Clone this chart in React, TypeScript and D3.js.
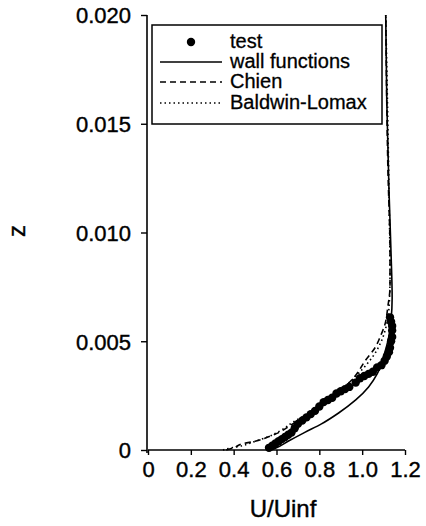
import * as d3 from "d3"
import { useEffect, useRef } from "react"

const uTicks = [0, 0.2, 0.4, 0.6, 0.8, 1.0, 1.2]
const zTicks = [0, 0.005, 0.01, 0.015, 0.02]
const uTickLabels = ["0", "0.2", "0.4", "0.6", "0.8", "1.0", "1.2"]
const zTickLabels = ["0", "0.005", "0.010", "0.015", "0.020"]

// test data (U/Uinf, z)
const testU = [0.565, 0.58, 0.595, 0.61, 0.625, 0.64, 0.655, 0.67, 0.685, 0.7, 0.72, 0.74, 0.76, 0.78, 0.8, 0.82, 0.84, 0.86, 0.88, 0.9, 0.92, 0.94, 0.97, 0.99, 1.01, 1.03, 1.05, 1.07, 1.09, 1.105, 1.115, 1.125, 1.13, 1.135, 1.14, 1.14, 1.14, 1.135, 1.13]
const testZ = [0.0001, 0.0002, 0.0003, 0.0004, 0.0005, 0.0006, 0.0007, 0.0008, 0.001, 0.0012, 0.00135, 0.0015, 0.00165, 0.0018, 0.002, 0.0022, 0.0023, 0.0024, 0.0026, 0.0027, 0.0028, 0.0029, 0.0031, 0.0033, 0.0034, 0.0035, 0.0036, 0.0038, 0.0039, 0.0041, 0.0043, 0.0045, 0.0047, 0.005, 0.0052, 0.0055, 0.0057, 0.0059, 0.0061]

const wallU = [0.575, 0.6, 0.654, 0.73, 0.81, 0.89, 0.97, 1.03, 1.07, 1.1, 1.12, 1.135, 1.14, 1.135, 1.125, 1.115, 1.11]
const wallZ = [0, 0.0001, 0.0004, 0.0008, 0.0012, 0.0017, 0.0023, 0.0029, 0.0035, 0.0043, 0.005, 0.006, 0.007, 0.009, 0.012, 0.016, 0.02]

const chienU = [0.365, 0.4, 0.445, 0.5, 0.56, 0.61, 0.66, 0.72, 0.8, 0.87, 0.93, 0.967, 1.014, 1.06, 1.084, 1.107, 1.12, 1.13, 1.13, 1.12, 1.11]
const chienZ = [0, 0.0001, 0.0003, 0.0004, 0.0006, 0.0008, 0.0011, 0.0015, 0.002, 0.0025, 0.003, 0.0034, 0.0041, 0.0047, 0.0052, 0.0058, 0.0066, 0.0075, 0.009, 0.013, 0.02]

const baldwinU = [0.35, 0.39, 0.44, 0.5, 0.56, 0.62, 0.68, 0.75, 0.82, 0.89, 0.95, 1.0, 1.05, 1.085, 1.11, 1.125, 1.13, 1.125, 1.11]
const baldwinZ = [0, 0.0001, 0.0002, 0.0004, 0.0006, 0.0009, 0.0013, 0.0017, 0.0022, 0.0027, 0.0032, 0.0037, 0.0043, 0.0049, 0.0056, 0.0065, 0.008, 0.012, 0.02]

const legendNames = ["test", "wall functions", "Chien", "Baldwin-Lomax"]

export default function App() {
    const svgRef = useRef<SVGSVGElement>(null)

    useEffect(() => {
        if (!svgRef.current) return
        const svg = d3.select(svgRef.current)
        svg.selectAll("*").remove()

        const font = "'Liberation Sans', Arial, sans-serif"
        const x = d3.scaleLinear().domain([0, 1.2]).range([148, 405])
        const y = d3.scaleLinear().domain([0, 0.02]).range([450, 15])

        // axes
        const xAxis = svg.append("g").attr("transform", "translate(0,450)")
            .call(d3.axisBottom(x).tickValues(uTicks).tickSize(5).tickFormat((_, i) => uTickLabels[i]))
        xAxis.select(".domain").attr("stroke-width", 1.6).attr("d", `M${x(0)},0H${x(1.2)}`)
        xAxis.selectAll(".tick line").attr("stroke-width", 1.4)
        xAxis.selectAll(".tick text")
            .attr("y", 11).attr("dy", "0.71em")
            .attr("font-family", font).attr("font-size", 22)
            .attr("fill", "#000").attr("stroke", "#000").attr("stroke-width", 0.4)

        const yAxis = svg.append("g").attr("transform", "translate(147,0)")
            .call(d3.axisLeft(y).tickValues(zTicks).tickSize(6).tickFormat((_, i) => zTickLabels[i]))
        yAxis.select(".domain").attr("stroke-width", 1.6).attr("d", `M0,${y(0) + 3}V${y(0.02)}`)
        yAxis.selectAll(".tick line").attr("stroke-width", 1.4)
        yAxis.selectAll(".tick text")
            .attr("x", -16).attr("dy", "0.36em")
            .attr("font-family", font).attr("font-size", 22)
            .attr("fill", "#000").attr("stroke", "#000").attr("stroke-width", 0.4)

        // axis titles
        svg.append("text")
            .attr("x", 283).attr("y", 517)
            .attr("text-anchor", "middle")
            .attr("font-family", font).attr("font-size", 24)
            .attr("stroke", "#000").attr("stroke-width", 0.4)
            .text("U/Uinf")
        svg.append("text")
            .attr("transform", "translate(25,231) rotate(-90)")
            .attr("text-anchor", "middle")
            .attr("font-family", font).attr("font-size", 24)
            .attr("stroke", "#000").attr("stroke-width", 0.4)
            .text("z")

        // model curves
        const line = d3.line<[number, number]>()
            .x((d) => x(d[0]))
            .y((d) => y(d[1]))
            .curve(d3.curveMonotoneY)

        const curves = [
            { u: wallU, z: wallZ, dash: null },
            { u: chienU, z: chienZ, dash: "6,4" },
            { u: baldwinU, z: baldwinZ, dash: "1.5,3" },
        ]
        curves.forEach((c) => {
            const pts = c.u.map((u, i) => [u, c.z[i]] as [number, number])
            svg.append("path")
                .datum(pts)
                .attr("fill", "none")
                .attr("stroke", "#000")
                .attr("stroke-width", 1.6)
                .attr("stroke-dasharray", c.dash)
                .attr("d", line)
        })

        // test points
        svg.append("g")
            .selectAll("circle")
            .data(testU.map((u, i) => [u, testZ[i]]))
            .join("circle")
            .attr("cx", (d) => x(d[0]))
            .attr("cy", (d) => y(d[1]))
            .attr("r", 4.2)
            .attr("fill", "#000")

        // legend
        const lg = svg.append("g")
        lg.append("rect")
            .attr("x", 152).attr("y", 25).attr("width", 230).attr("height", 99)
            .attr("fill", "#fff").attr("stroke", "#000").attr("stroke-width", 1.5)
        const rowY = [42, 62, 82, 103]
        lg.append("circle").attr("cx", 191).attr("cy", rowY[0]).attr("r", 4.2).attr("fill", "#000")
        curves.forEach((c, i) => {
            lg.append("line")
                .attr("x1", 160).attr("x2", 222)
                .attr("y1", rowY[i + 1]).attr("y2", rowY[i + 1])
                .attr("stroke", "#000").attr("stroke-width", 1.6)
                .attr("stroke-dasharray", c.dash)
        })
        lg.selectAll("text")
            .data(legendNames)
            .join("text")
            .attr("x", 230)
            .attr("y", (_, i) => rowY[i] + 6)
            .attr("font-family", font).attr("font-size", 20)
            .attr("stroke", "#000").attr("stroke-width", 0.3)
            .text((d) => d)
    }, [])

    return (
        <svg
            ref={svgRef}
            width={426}
            height={526}
            viewBox="0 0 426 526"
            style={{ position: "absolute", left: 0, top: 0, background: "#fff" }}
        />
    )
}
